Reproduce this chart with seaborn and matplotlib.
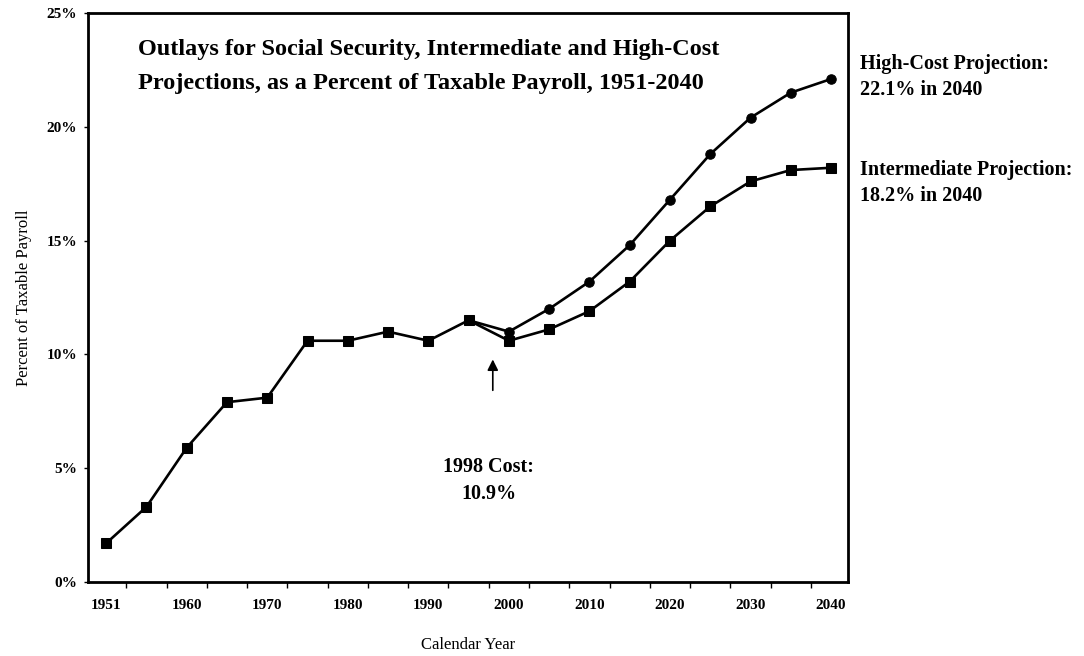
import matplotlib
matplotlib.use("Agg")
import matplotlib.pyplot as plt
import seaborn as sns
import pandas as pd
from matplotlib.ticker import FixedLocator, FuncFormatter

# Calendar years shown on the category axis
years = [1951, 1955, 1960, 1965, 1970, 1975, 1980, 1985, 1990, 1995,
         2000, 2005, 2010, 2015, 2020, 2025, 2030, 2035, 2040]

# Outlays as a percent of taxable payroll
intermediate = [1.7, 3.3, 5.9, 7.9, 8.1, 10.6, 10.6, 11.0, 10.6, 11.5,
                10.6, 11.1, 11.9, 13.2, 15.0, 16.5, 17.6, 18.1, 18.2]
high_cost_years = [1995, 2000, 2005, 2010, 2015, 2020, 2025, 2030, 2035, 2040]
high_cost = [11.5, 11.0, 12.0, 13.2, 14.8, 16.8, 18.8, 20.4, 21.5, 22.1]

y_ticks = [0, 5, 10, 15, 20, 25]
x_labels = ["1951", "1960", "1970", "1980", "1990", "2000", "2010", "2020", "2030", "2040"]

pos = {y: i for i, y in enumerate(years)}
df = pd.concat([
    pd.DataFrame({"pos": [pos[y] for y in years], "value": intermediate,
                  "series": "Intermediate"}),
    pd.DataFrame({"pos": [pos[y] for y in high_cost_years], "value": high_cost,
                  "series": "High-Cost"}),
])

sns.set_style("white")
plt.rcParams["font.family"] = ["Liberation Serif", "DejaVu Serif"]
plt.rcParams.update({"text.color": "black", "axes.labelcolor": "black",
                     "xtick.color": "black", "ytick.color": "black"})

fig = plt.figure(figsize=(10.84, 6.56), dpi=100)
ax = fig.add_axes([0.0812, 0.1128, 0.7011, 0.8674])

sns.lineplot(data=df[df.series == "High-Cost"], x="pos", y="value", ax=ax,
             color="black", linewidth=1.9, marker="o", markersize=6.8,
             markeredgecolor="black", legend=False)
sns.lineplot(data=df[df.series == "Intermediate"], x="pos", y="value", ax=ax,
             color="black", linewidth=1.9, marker="s", markersize=7.2,
             markeredgecolor="black", legend=False)

ax.set_xlim(-0.45, len(years) - 1 + 0.42)
ax.set_ylim(0, 25)

ax.xaxis.set_major_locator(FixedLocator(list(range(0, len(years), 2))))
ax.set_xticklabels(x_labels, fontweight="bold", fontsize=11)
ax.xaxis.set_minor_locator(FixedLocator([i + 0.5 for i in range(-1, len(years))]))
ax.tick_params(axis="x", which="major", length=0, pad=12)
ax.tick_params(axis="x", which="minor", length=4, width=1, direction="out",
               bottom=True, color="black")

ax.set_yticks(y_ticks)
ax.yaxis.set_major_formatter(FuncFormatter(lambda v, p: f"{v:.0f}%"))
for lbl in ax.get_yticklabels():
    lbl.set_fontweight("bold")
    lbl.set_fontsize(11)
ax.tick_params(axis="y", which="major", length=3, width=1, direction="out",
               left=True, color="black", pad=5)

for s in ax.spines.values():
    s.set_visible(True)
    s.set_color("black")
    s.set_linewidth(2)

ax.set_xlabel("Calendar Year", fontsize=12, labelpad=18)
ax.set_ylabel("Percent of Taxable Payroll", fontsize=12, labelpad=10)

ax.text(0.066, 0.955,
        "Outlays for Social Security, Intermediate and High-Cost\n"
        "Projections, as a Percent of Taxable Payroll, 1951-2040",
        transform=ax.transAxes, ha="left", va="top", fontsize=17.5,
        fontweight="bold", linespacing=1.85)

fig.text(0.793, 0.917, "High-Cost Projection:\n%.1f%% in 2040" % high_cost[-1],
         ha="left", va="top", fontsize=14.5, fontweight="bold", linespacing=1.4)
fig.text(0.793, 0.756, "Intermediate Projection:\n%.1f%% in 2040" % intermediate[-1],
         ha="left", va="top", fontsize=14.5, fontweight="bold", linespacing=1.4)

x1998 = pos[1995] + (1998 - 1995) / (2000 - 1995)
ax.annotate("", xy=(x1998, 9.9), xytext=(x1998, 8.3),
            arrowprops=dict(arrowstyle="-|>", color="black", lw=1.2,
                            mutation_scale=16))
ax.text(x1998 - 0.1, 5.5, "1998 Cost:\n10.9%", ha="center", va="top", fontsize=14.5,
        fontweight="bold", linespacing=1.45)

fig.savefig("out.png", dpi=100)
